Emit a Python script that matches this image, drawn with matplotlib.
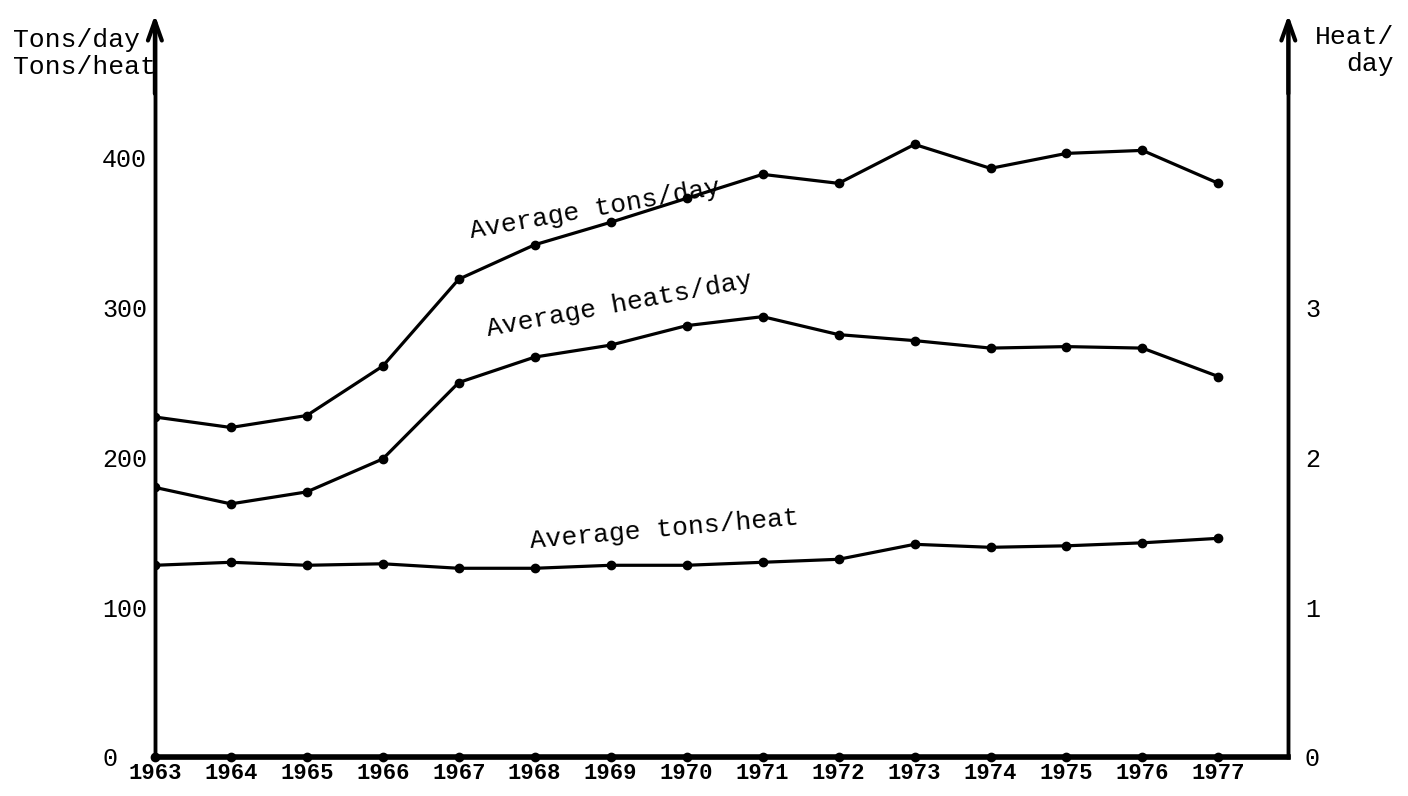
import matplotlib
matplotlib.use("Agg")
import matplotlib.pyplot as plt

years = list(range(1963, 1978))
tons_per_day = [227, 220, 228, 261, 319, 342, 357, 373, 389, 383, 409, 393, 403, 405, 383]
heats_per_day = [1.80, 1.69, 1.77, 1.99, 2.50, 2.67, 2.75, 2.88, 2.94, 2.82, 2.78, 2.73, 2.74, 2.73, 2.54]
tons_per_heat = [128, 130, 128, 129, 126, 126, 128, 128, 130, 132, 142, 140, 141, 143, 146]

left_ticks = [0, 100, 200, 300, 400]
right_ticks = [0, 1, 2, 3]

font = "Liberation Mono"
plt.rcParams["font.family"] = [font, "DejaVu Sans Mono"]

fig = plt.figure(figsize=(14.08, 7.96), dpi=100)
ax = fig.add_axes([0.110, 0.049, 0.805, 0.922])
ax2 = ax.twinx()

ymax = 490
ax.set_ylim(0, ymax)
ax2.set_ylim(0, ymax / 100)
ax.set_xlim(1963, 1977.92)

line_kw = dict(color="black", lw=2.3, marker="o", ms=6)
ax.plot(years, tons_per_day, **line_kw)
ax.plot(years, tons_per_heat, **line_kw)
ax2.plot(years, heats_per_day, **line_kw)
# dots on the year axis
ax.plot(years, [0] * len(years), ls="none", marker="o", ms=6, color="black", clip_on=False)

for a in (ax, ax2):
    a.spines["top"].set_visible(False)
    for s in ("left", "right", "bottom"):
        a.spines[s].set_linewidth(2.5)
ax.spines["bottom"].set_linewidth(4)

ax.set_yticks(left_ticks)
ax2.set_yticks(right_ticks)
ax.set_xticks(years)
ax.set_xticklabels([str(y) for y in years])
ax.tick_params(axis="y", length=0, pad=38, labelsize=18)
for lab in ax.get_yticklabels():
    lab.set_horizontalalignment("left")
ax2.tick_params(axis="y", length=0, pad=12, labelsize=18)
ax.tick_params(axis="x", length=0, pad=4, labelsize=16)
for lab in ax.get_xticklabels():
    lab.set_fontweight("bold")

# arrow heads on both vertical axes
for xa in (0, 1):
    ax.annotate("", xy=(xa, 1.015), xytext=(xa, 0.9), xycoords="axes fraction",
                arrowprops=dict(arrowstyle="->,head_length=1.4,head_width=0.5",
                                lw=3, color="black"), annotation_clip=False)

ax.text(1968.79, 366, "Average tons/day", rotation=10, rotation_mode="anchor",
        ha="center", va="center", fontsize=19)
ax.text(1969.12, 302, "Average heats/day", rotation=10.5, rotation_mode="anchor",
        ha="center", va="center", fontsize=19)
ax.text(1969.71, 152, "Average tons/heat", rotation=5, rotation_mode="anchor",
        ha="center", va="center", fontsize=19)

fig.text(13 / 1408, 1 - 28 / 796, "Tons/day\nTons/heat", ha="left", va="top",
         fontsize=19, linespacing=1.15)
fig.text(1394 / 1408, 1 - 25 / 796, "Heat/\nday", ha="right", va="top",
         fontsize=19, linespacing=1.15)

fig.savefig("out.png", dpi=100)
